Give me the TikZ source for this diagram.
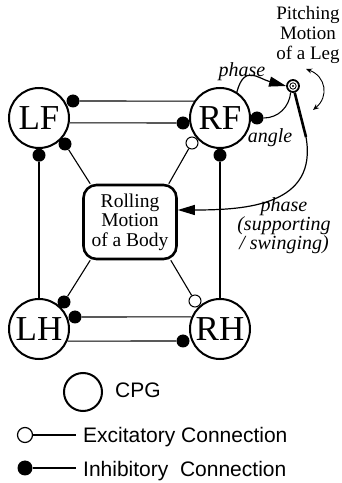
\documentclass[tikz,border=0pt]{standalone}
\usepackage{fontspec}
\setmainfont{Liberation Serif}
\setsansfont{Liberation Sans}
\usetikzlibrary{arrows.meta,positioning}
\tikzset{
  cpgnode/.style={circle, draw, line width=2pt, fill=white, minimum size=60pt,
    inner sep=0pt, font=\fontsize{35}{35}\selectfont},
  bodybox/.style={draw, rounded corners=13pt, line width=2.6pt, minimum width=93pt,
    minimum height=74pt, align=center, inner sep=0pt, font=\fontsize{19.5}{19.5}\selectfont},
  inhdot/.style={circle, fill=black, inner sep=0pt, minimum size=13pt},
  excdot/.style={circle, draw, fill=white, line width=1pt, inner sep=0pt, minimum size=12pt},
  conn/.style={line width=1.1pt},
  arr/.style={-{Triangle[length=17pt,width=10pt]}, line width=1.2pt},
  lbl/.style={font=\fontsize{20}{17}\selectfont\itshape, align=center, inner sep=0pt},
  keytext/.style={font=\sffamily\fontsize{21}{21}\selectfont, anchor=base west, inner sep=0pt}
}
\begin{document}
\begin{tikzpicture}[x=1pt, y=1pt]
  \useasboundingbox (0,0) rectangle (341,483);
  \node[cpgnode] (lf) at (39,365) {LF};
  \node[cpgnode] (rf) at (220,365) {RF};
  \node[cpgnode] (lh) at (39,154) {LH};
  \node[cpgnode] (rh) at (220,154) {RH};
  \node[bodybox] (body) at (130,261) {Rolling\\Motion\\of a Body};
  \node[inhdot] (lfA) at (73,382) {};
  \node[inhdot] (lfB) at (65,339) {};
  \node[inhdot, below=-0.5pt of lf] (lfC) {};
  \node[inhdot] (rfA) at (183,360) {};
  \node[excdot] (rfW) at (192,340) {};
  \node[inhdot, below=-0.5pt of rf] (rfC) {};
  \node[inhdot] (rfE) at (257,365) {};
  \node[inhdot] (lhA) at (75,166) {};
  \node[inhdot] (lhB) at (64,181) {};
  \node[excdot] (rhW) at (195,182) {};
  \node[inhdot] (rhA) at (183,142) {};
  \draw[conn] (lfA) -- (rf.147);
  \draw[conn] (lf.-9) -- (rfA);
  \draw[conn] (lhA) -- (rh.157);
  \draw[conn] (lh.-23) -- (rhA);
  \draw[conn] (lh) -- (lfC);
  \draw[conn] (rh) -- (rfC);
  \draw[conn] (lfB) -- ([xshift=8pt]body.north west);
  \draw[conn] (rfW) -- ([xshift=-9pt]body.north east);
  \draw[conn] (lhB) -- ([xshift=8pt]body.south west);
  \draw[conn] (rhW) -- ([xshift=-7pt]body.south east);
  % leg
  \node[circle, draw, line width=1.8pt, minimum size=12pt, inner sep=0pt] (joint) at (293,397) {};
  \draw[line width=0.8pt] (joint) circle (3.2pt);
  \fill (joint) circle (1.2pt);
  \coordinate (legtip) at (306,346);
  \draw[line width=2.6pt] (joint) -- (legtip);
  \node[font=\fontsize{19}{20}\selectfont, align=center, inner sep=0pt] (pitch) at (308,448) {Pitching\\Motion\\of a Leg};
  \coordinate (swingA) at (306,414);
  \coordinate (swingB) at (313,373);
  \draw[{Stealth[length=6pt,width=5pt]}-{Stealth[length=6pt,width=5pt]}, line width=0.9pt]
    (swingA) to[bend left=60, looseness=1.3] (swingB);
  \draw[arr] (rf.57) to[out=75, in=165, looseness=1.5] (joint.west);
  \draw[conn] (joint.-110) to[out=-95, in=0] (rfE);
  \draw[arr] (legtip) to[out=-80, in=0, looseness=1.2] ([yshift=12pt]body.east);
  \node[lbl] (phA) at (242,411) {phase};
  \node[lbl] (agl) at (270,345) {angle};
  \node[lbl] (phB) at (284,257) {phase\\(supporting\\/ swinging)};
  % legend
  \node[cpgnode, minimum size=38pt] (cpgkey) at (83,91) {};
  \node[keytext] (cpgtxt) at (115,85) {CPG};
  \node[excdot, minimum size=15pt, line width=1.2pt] (exckey) at (25,48) {};
  \node[keytext] (exctxt) at (83,40) {Excitatory Connection};
  \draw[conn, shorten >=7pt] (exckey) -- (exckey -| exctxt.west);
  \node[inhdot, minimum size=15pt] (inhkey) at (25,15) {};
  \node[keytext] (inhtxt) at (83,6) {Inhibitory\ \ Connection};
  \draw[conn, shorten >=7pt] (inhkey) -- (inhkey -| inhtxt.west);
\end{tikzpicture}
\end{document}
